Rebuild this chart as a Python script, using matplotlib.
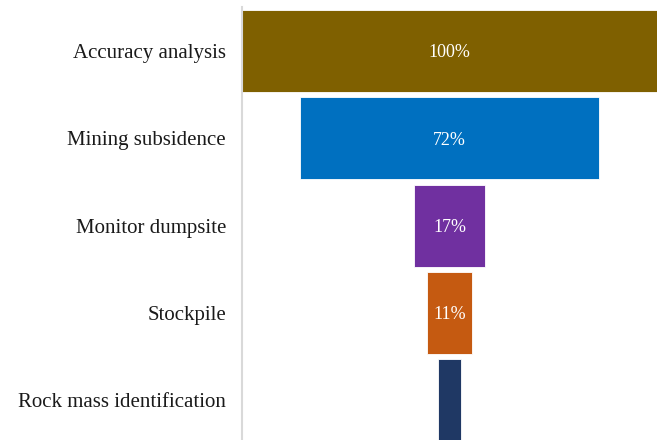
import matplotlib
matplotlib.use("Agg")
import matplotlib.pyplot as plt

categories = ["Accuracy analysis", "Mining subsidence", "Monitor dumpsite",
              "Stockpile", "Rock mass identification"]
values = [100, 72, 17, 11, 5.5]
value_labels = ["100%", "72%", "17%", "11%", ""]
colors = ["#7F6000", "#0070C0", "#7030A0", "#C55A11", "#1F3864"]

plt.rcParams["font.family"] = ["Liberation Serif", "DejaVu Serif"]

fig = plt.figure(figsize=(6.59, 4.40), dpi=100)
ax = fig.add_axes([242 / 659, -4 / 440, 415 / 659, 436.5 / 440])

ypos = list(range(len(categories)))
lefts = [(100 - v) / 2 for v in values]
ax.barh(ypos, values, left=lefts, height=0.94, color=colors,
        edgecolor="white", linewidth=0.6)

for y, v, lab in zip(ypos, values, value_labels):
    if lab:
        ax.text(50, y + 0.02, lab, ha="center", va="center", color="white",
                fontsize=13)

ax.set_xlim(0, 100)
ax.set_ylim(len(categories) - 0.5, -0.5)
ax.set_yticks(ypos)
ax.set_yticklabels(categories, fontsize=15, color="#1a1a1a")
ax.tick_params(axis="y", length=0, pad=11.5)
ax.set_xticks([])
for side in ["top", "right", "bottom"]:
    ax.spines[side].set_visible(False)
ax.spines["left"].set_color("#D9D9D9")
ax.spines["left"].set_linewidth(1.5)

fig.savefig("out.png", dpi=100)
